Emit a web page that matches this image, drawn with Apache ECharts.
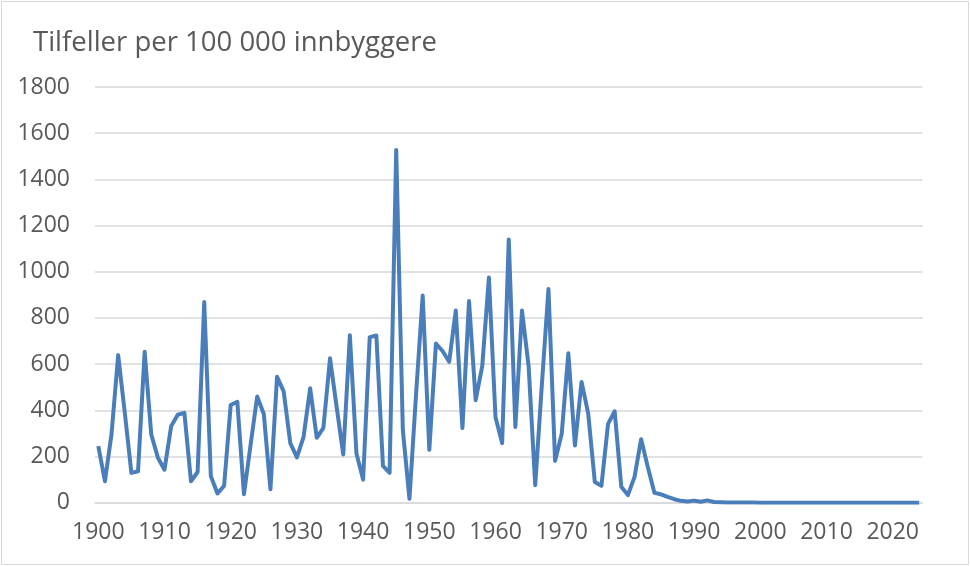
<!DOCTYPE html>
<html>
<head>
<meta charset="UTF-8">
<title>Tilfeller per 100 000 innbyggere</title>
<script type="text/javascript" src="https://cdn.jsdelivr.net/npm/echarts@6/dist/echarts.min.js"></script>
<style>
  html, body { margin: 0; padding: 0; background: #fff; }
</style>
</head>
<body>
<div id="main" style="width:970px;height:566px"></div>
<script type="text/javascript">
// years 1900 - 2024, one value per year
var firstYear = 1900;
var lastYear = 2024;
var years = [];
for (var y = firstYear; y <= lastYear; y++) years.push(String(y));

// cases per 100 000
var cases1900s = [245, 93, 298, 639, 390, 129, 136, 654, 295, 195];
var cases1910s = [143, 331, 381, 389, 93, 133, 869, 115, 40, 73];
var cases1920s = [423, 437, 37, 250, 460, 384, 58, 545, 482, 258];
var cases1930s = [196, 284, 496, 281, 324, 625, 415, 209, 725, 212];
var cases1940s = [100, 717, 724, 159, 129, 1527, 315, 17, 470, 897];
var cases1950s = [229, 689, 657, 610, 832, 323, 873, 444, 592, 975];
var cases1960s = [370, 258, 1140, 328, 832, 592, 76, 510, 925, 181];
var cases1970s = [298, 647, 248, 523, 387, 90, 73, 341, 396, 69];
var cases1980s = [33, 112, 275, 155, 43, 36, 25, 15, 8, 5];
var cases1990s = [9, 4, 10, 3, 2, 1, 1, 1, 1, 1];
var cases2000s = [0, 0, 0, 0, 0, 0, 0, 0, 0, 0];
var cases2010s = [0, 0, 0, 0, 0, 0, 0, 0, 0, 0];
var cases2020s = [0, 0, 0, 0, 0];

var cases = [].concat(cases1900s, cases1910s, cases1920s, cases1930s, cases1940s,
  cases1950s, cases1960s, cases1970s, cases1980s, cases1990s, cases2000s,
  cases2010s, cases2020s);

var titleText = 'Tilfeller per 100 000 innbyggere';
var yMin = 0, yMax = 1800, yStep = 200;

var font = '"Open Sans", "Noto Sans", sans-serif';
var grey = '#595959';
var gridGrey = '#d9d9d9';

var myEcharts = echarts.init(document.getElementById('main'));

var option = {
  backgroundColor: '#fff',
  animation: false,
  title: {
    text: titleText,
    left: 28,
    top: 24,
    textStyle: { fontFamily: font, fontSize: 27.5, fontWeight: 'normal', color: grey }
  },
  graphic: [{
    type: 'rect',
    shape: { x: 1.5, y: 1.5, width: 967, height: 563 },
    style: { fill: 'none', stroke: gridGrey, lineWidth: 1 }
  }],
  grid: { left: 95, right: 47.5, top: 87, bottom: 63.3 },
  xAxis: {
    type: 'category',
    data: years,
    boundaryGap: true,
    axisLine: { lineStyle: { color: gridGrey, width: 1.5 } },
    axisTick: { interval: 9, length: 8, lineStyle: { color: gridGrey, width: 1.5 } },
    axisLabel: { interval: 9, margin: 18, color: grey, fontFamily: font, fontSize: 23 },
    splitLine: { show: false }
  },
  yAxis: {
    type: 'value',
    min: yMin,
    max: yMax,
    interval: yStep,
    axisLine: { show: false },
    axisTick: { show: false },
    axisLabel: {
      margin: 25, color: grey, fontFamily: font, fontSize: 23,
      formatter: function (v) { return String(v); }
    },
    splitLine: { lineStyle: { color: gridGrey, width: 1.5 } }
  },
  series: [{
    name: titleText,
    type: 'line',
    data: cases,
    showSymbol: false,
    symbol: 'none',
    lineStyle: { color: '#4a7ebb', width: 4, join: 'round' }
  }]
};

myEcharts.setOption(option);
</script>
</body>
</html>
